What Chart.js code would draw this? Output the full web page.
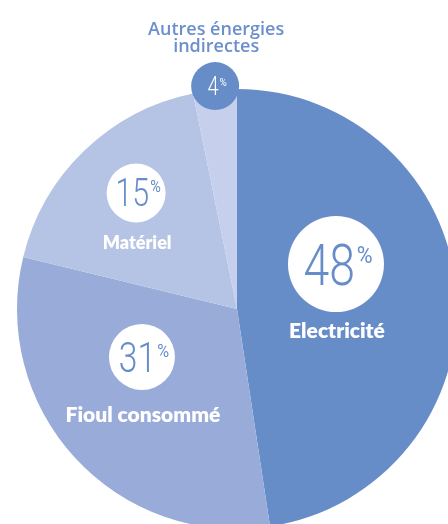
<!DOCTYPE html>
<html>
<head>
<meta charset="utf-8">
<script src="https://cdn.jsdelivr.net/npm/chart.js@4.4.1/dist/chart.umd.min.js"></script>
<style>
  html, body { margin: 0; padding: 0; overflow: hidden; background: #fff; }
  #wrap { width: 474px; height: 618px; }
</style>
</head>
<body>
<div id="wrap"><canvas id="chart"></canvas></div>
<script>
const categories = ['Electricité', 'Fioul consommé', 'Matériel', 'Autres énergies indirectes'];
// slice sizes as drawn in the picture
const shares = [47.6, 31.2, 18.0, 3.2];
// percentages printed in the badges
const percentLabels = ['48', '31', '15', '4'];
const sliceColors = ['#678dc9', '#99acd9', '#b5c3e5', '#c6d0ec'];

const BLUE = '#678dc9';

// badge placement: angle clockwise from 12 o'clock, distance as share of the radius
const badges = [
  { angle: 65.6, dist: 0.494, r: 48, size: 58, nameSize: 21, nameDy: 74 },
  { angle: 243.2, dist: 0.484, r: 33, size: 42, nameSize: 21, nameDy: 65 },
  { angle: 319, dist: 0.699, r: 29.5, size: 38, nameSize: 18, nameDy: 56 },
  { angle: 354.4, dist: 1.018, r: 24, size: 25, dark: true },
];

const drawPercent = (ctx, text, x, y, size, color) => {
  const squeeze = 0.8;
  ctx.save();
  ctx.fillStyle = color;
  ctx.textBaseline = 'alphabetic';
  ctx.textAlign = 'left';
  const digitFont = `300 ${size}px Roboto`;
  const pSize = Math.round(size * 0.42);
  const pFont = `400 ${pSize}px Roboto`;
  ctx.font = digitFont;
  const w1 = ctx.measureText(text).width * squeeze;
  ctx.font = pFont;
  const w2 = ctx.measureText('%').width * 0.9;
  const gap = size * 0.03;
  const left = x + 2 - (w1 + gap + w2) / 2;
  const base = y + size * 0.711 / 2;
  const top = base - size * 0.711;

  ctx.save();
  ctx.translate(left, base);
  ctx.scale(squeeze, 1);
  ctx.font = digitFont;
  ctx.fillText(text, 0, 0);
  ctx.restore();

  ctx.save();
  ctx.translate(left + w1 + gap, top + size * 0.04 + pSize * 0.711);
  ctx.scale(0.9, 1);
  ctx.font = pFont;
  ctx.fillText('%', 0, 0);
  ctx.restore();
  ctx.restore();
};

const badgePlugin = {
  id: 'badges',
  afterDatasetsDraw(chart) {
    const { ctx } = chart;
    const arcs = chart.getDatasetMeta(0).data;
    arcs.forEach((arc, i) => {
      const b = badges[i];
      const a = (b.angle * Math.PI) / 180;
      const x = arc.x + Math.sin(a) * b.dist * arc.outerRadius;
      const y = arc.y - Math.cos(a) * b.dist * arc.outerRadius;

      ctx.save();
      ctx.beginPath();
      ctx.arc(x, y, b.r, 0, Math.PI * 2);
      ctx.fillStyle = b.dark ? BLUE : '#ffffff';
      ctx.fill();
      ctx.restore();

      drawPercent(ctx, percentLabels[i], x, y, b.size, b.dark ? '#ffffff' : BLUE);

      ctx.save();
      ctx.textAlign = 'center';
      ctx.textBaseline = 'alphabetic';
      if (b.dark) {
        // the small slice is named above the pie
        const words = categories[i].split(' ');
        ctx.fillStyle = '#6b8fcd';
        ctx.font = '600 18px "Open Sans"';
        ctx.fillText(words.slice(0, 2).join(' '), x + 1, y - 51);
        ctx.fillText(words.slice(2).join(' '), x + 1, y - 34);
      } else {
        ctx.fillStyle = '#ffffff';
        ctx.font = `800 ${b.nameSize}px Lato`;
        ctx.fillText(categories[i], x + 1, y + b.nameDy);
      }
      ctx.restore();
    });
  },
};

new Chart(document.getElementById('chart'), {
  type: 'pie',
  data: {
    labels: categories,
    datasets: [
      {
        data: shares,
        backgroundColor: sliceColors,
        borderWidth: 0,
      },
    ],
  },
  options: {
    responsive: true,
    maintainAspectRatio: false,
    animation: false,
    layout: { padding: 17 },
    plugins: {
      legend: { display: false },
      tooltip: { enabled: false },
    },
  },
  plugins: [badgePlugin],
});
</script>
</body>
</html>
